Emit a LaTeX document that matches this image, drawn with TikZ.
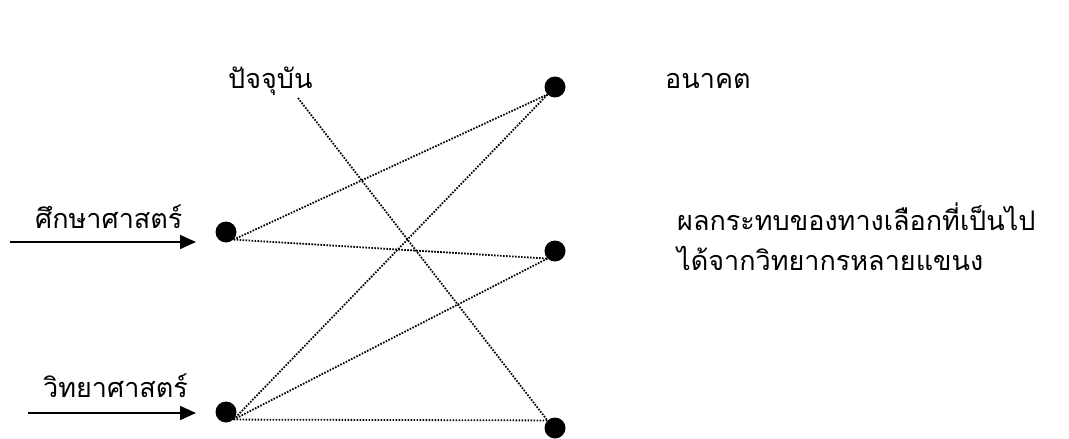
\documentclass[tikz,border=0pt]{standalone}
\usepackage{fontspec}
\newfontfamily\thaifont[Script=Thai]{Loma}
\usetikzlibrary{arrows.meta,positioning}
\tikzset{
  stagedot/.style={
    circle,
    fill=black,
    inner sep=0pt,
    minimum size=21pt
  },
  thailabel/.style={
    font=\thaifont\fontsize{27}{32}\selectfont,
    inner sep=0pt,
    anchor=base west
  },
  linkline/.style={line width=1.8pt,dash pattern=on 1.6pt off 1.4pt},
  feedarrow/.style={-{Triangle[length=16pt,width=14pt]},line width=1.6pt}
}

\begin{document}
\begin{tikzpicture}[x=1pt,y=-1pt]
\useasboundingbox (0,0) rectangle (1069,439);
% points in time
\node[stagedot] (edu) at (226,232) {};
\node[stagedot] (sci) at (226,412) {};
\node[stagedot] (fut) at (555,87) {};
\node[stagedot] (mid) at (555,251) {};
\node[stagedot] (low) at (555,428) {};
% labels
\node[thailabel] (now) at (228,88) {ปัจจุบัน};
\node[thailabel] (later) at (665,88) {อนาคต};
\node[thailabel] (edulbl) at (35,228) {ศึกษาศาสตร์};
\node[thailabel] (scilbl) at (43,397) {วิทยาศาสตร์};
\node[thailabel] (effect1) at (677,230) {ผลกระทบของทางเลือกที่เป็นไป};
\node[thailabel] (effect2) at (677,270) {ได้จากวิทยากรหลายแขนง};
% inputs
\coordinate (eduin) at (10,242);
\coordinate (edutip) at (196,242);
\coordinate (sciin) at (28,413);
\coordinate (scitip) at (196,413);
\draw[feedarrow] (eduin) -- (edutip);
\draw[feedarrow] (sciin) -- (scitip);
% links
\coordinate (nowfoot) at (298,98);
\draw[linkline] (nowfoot) -- (low.north west);
\draw[linkline] (edu.south east) -- (fut.south west);
\draw[linkline] (edu.south east) -- (mid.south west);
\draw[linkline] (sci.south east) -- (fut.south west);
\draw[linkline] (sci.south east) -- (mid.south west);
\draw[linkline] (sci.south east) -- (low.north west);
\end{tikzpicture}
\end{document}
